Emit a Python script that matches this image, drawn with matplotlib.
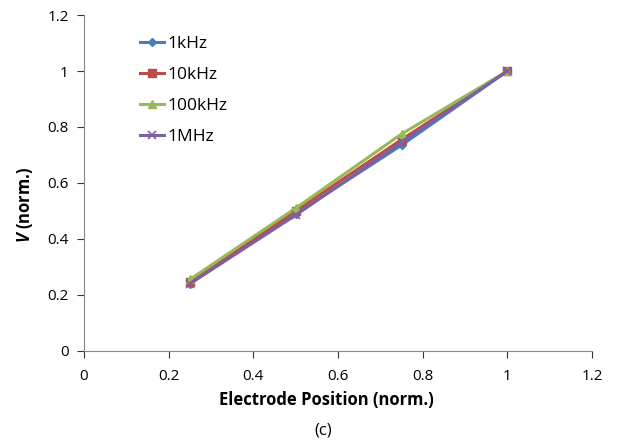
import matplotlib
matplotlib.use("Agg")
import matplotlib.pyplot as plt

plt.rcParams['font.family'] = ['Open Sans', 'DejaVu Sans']
plt.rcParams['mathtext.fontset'] = 'custom'
plt.rcParams['mathtext.it'] = 'Open Sans:italic:bold'
plt.rcParams['mathtext.rm'] = 'Open Sans:bold'

x = [0.25, 0.5, 0.75, 1.0]
v_1k = [0.24, 0.49, 0.735, 1.0]
v_10k = [0.245, 0.50, 0.755, 1.0]
v_100k = [0.255, 0.51, 0.775, 1.0]
v_1M = [0.24, 0.485, 0.745, 1.0]
labels = ['1kHz', '10kHz', '100kHz', '1MHz']
xticks = [0, 0.2, 0.4, 0.6, 0.8, 1, 1.2]
yticks = [0, 0.2, 0.4, 0.6, 0.8, 1, 1.2]

fig = plt.figure(figsize=(6.18, 4.43), dpi=100)
ax = fig.add_axes([0.136, 0.208, 0.822, 0.758])

ax.plot(x, v_1k, color='#4a7ebb', marker='D', markersize=4, lw=2.2, label=labels[0])
ax.plot(x, v_10k, color='#be4b48', marker='s', markersize=6, lw=2.2, label=labels[1])
ax.plot(x, v_100k, color='#98b954', marker='^', markersize=6, lw=2.2, label=labels[2])
ax.plot(x, v_1M, color='#7d60a0', marker='x', markersize=6, lw=2.2, mew=1.2, label=labels[3])

ax.set_xlim(0, 1.2)
ax.set_ylim(0, 1.2)
ax.set_xticks(xticks)
ax.set_yticks(yticks)
ax.set_xticklabels([f'{t:g}' for t in xticks])
ax.set_yticklabels([f'{t:g}' for t in yticks])
ax.tick_params(direction='out', length=5, labelsize=11, colors='#333333', labelcolor='black')
ax.tick_params(axis='x', pad=8)
ax.tick_params(axis='y', pad=6)
for s in ['top', 'right']:
    ax.spines[s].set_visible(False)
for s in ['left', 'bottom']:
    ax.spines[s].set_color('#888888')

ax.set_xlabel('Electrode Position (norm.)', fontsize=12, fontweight='bold')
ax.xaxis.set_label_coords(0.477, -0.146)
ax.xaxis.label.set_va('center')
ax.set_ylabel('$V$ (norm.)', fontsize=12, fontweight='bold')
ax.yaxis.set_label_coords(-0.116, 0.435)
ax.yaxis.label.set_va('center')

ax.legend(loc='upper left', bbox_to_anchor=(0.2265, 0.919), bbox_transform=fig.transFigure,
          frameon=False, fontsize=12.5, borderpad=0, borderaxespad=0,
          handlelength=1.4, labelspacing=0.85, handletextpad=0.2)

fig.text(0.523, 0.029, '(c)', ha='center', va='center', fontsize=12)

fig.savefig('out.png', dpi=100)
